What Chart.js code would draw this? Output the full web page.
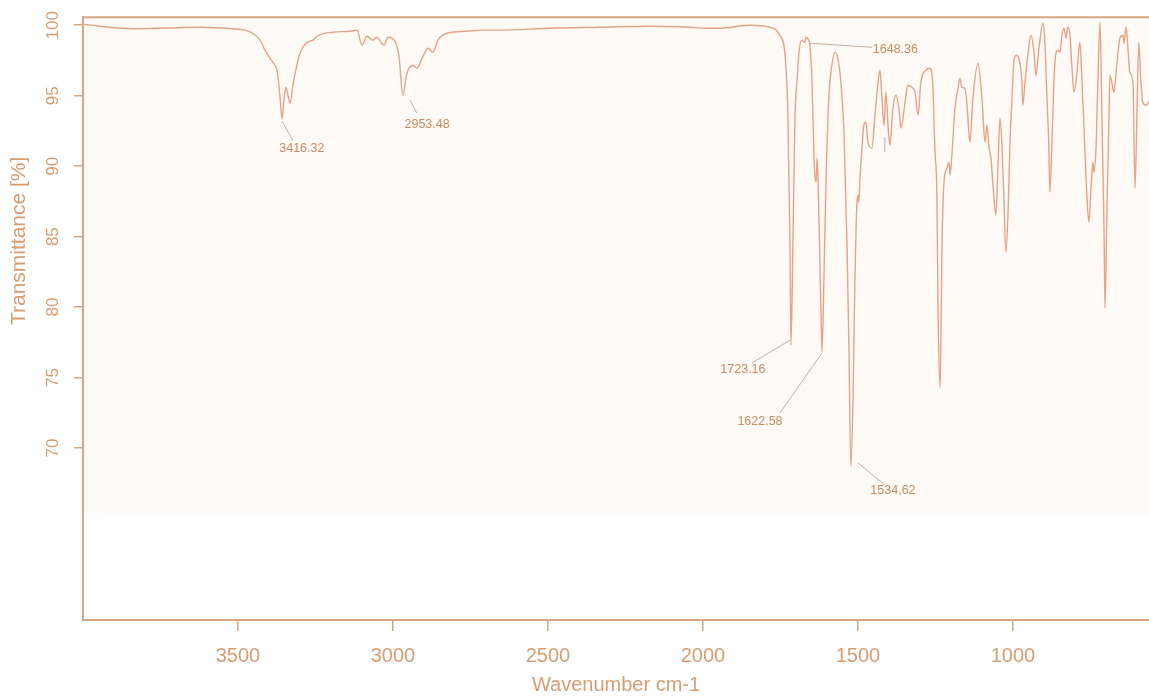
<!DOCTYPE html>
<html>
<head>
<meta charset="utf-8">
<script src="https://cdn.jsdelivr.net/npm/chart.js@4.4.1/dist/chart.umd.min.js"></script>
<style>
  html, body { margin: 0; padding: 0; background: #ffffff; }
  #wrap { width: 1149px; height: 700px; position: relative; }
</style>
</head>
<body>
<div id="wrap"><canvas id="c" width="1149" height="700"></canvas></div>
<script>
// ---- data ----
const wavenumbers = [4000,3945,3890,3839,3729,3623,3516,3477,3452,3429,3413,3397,3381,3374,3365,3358,3352,3345,3339,3332,3323,3310,3300,3277,3258,3245,3194,3139,3116,3100,3084,3065,3052,3029,3016,2994,2981,2968,2955,2935,2923,2906,2887,2871,2855,2826,2761,2719,2655,2494,2332,2171,2042,1994,1945,1848,1784,1752,1735,1726,1719,1716,1710,1703,1697,1690,1681,1671,1668,1661,1655,1648,1642,1639,1635,1632,1629,1626,1619,1616,1610,1603,1594,1584,1574,1565,1555,1545,1535,1529,1523,1516,1510,1506,1503,1500,1497,1494,1487,1481,1474,1468,1455,1445,1435,1429,1423,1416,1410,1403,1397,1387,1377,1368,1361,1348,1339,1326,1316,1306,1297,1281,1268,1258,1252,1245,1242,1235,1232,1229,1223,1213,1206,1203,1197,1187,1177,1171,1165,1155,1148,1139,1129,1113,1100,1090,1084,1077,1071,1065,1055,1048,1042,1035,1029,1023,1016,1010,1003,997,990,981,971,968,961,952,942,932,926,916,903,897,890,884,881,874,868,861,855,848,842,835,829,823,816,810,803,794,784,777,768,761,755,748,742,739,732,726,719,713,706,703,697,690,687,681,674,665,655,645,642,635,629,623,613,606,600,594,587,581,571,561];
const transmittance = [100.07,99.93,99.8,99.75,99.8,99.86,99.75,99.65,99.43,98.94,98.23,97.66,97.16,96.81,95.04,93.33,94.68,95.6,95.04,94.47,95.74,97.16,98.01,98.79,98.94,99.22,99.5,99.57,99.65,98.58,99.22,98.94,99.15,98.58,99.15,98.87,97.87,95.04,96.6,97.16,96.95,97.66,98.37,98.09,98.94,99.43,99.57,99.65,99.65,99.79,99.86,99.93,99.86,99.79,99.79,100,99.86,99.29,97.87,93.62,84.18,77.3,84.18,93.62,95.96,98.09,98.94,98.79,99.15,99.01,98.58,95.96,90.78,89.36,88.87,90.57,89.36,86.52,79.43,76.81,81.77,88.87,94.82,97.16,98.09,97.66,95.96,92.41,84.18,77.09,68.65,73.26,81.77,85.6,87.45,87.94,87.45,88.87,91.28,92.91,93.12,91.7,91.28,93.62,95.96,96.81,95.04,92.91,95.25,92.91,91.49,94.11,95.04,94.11,92.7,94.54,95.74,95.6,95.25,93.62,95.96,96.81,96.95,95.53,91.28,87.59,80.5,74.26,78.37,84.04,88.65,89.86,90.28,89.36,90.78,94.11,95.53,96.24,95.6,95.53,94.33,91.7,94.82,97.3,94.82,91.7,92.91,91.28,90.57,88.87,86.52,90.07,93.4,91.28,87.73,83.9,86.52,91.28,94.82,97.38,97.87,97.66,95.96,94.33,95.96,97.87,99.29,98.09,96.45,98.37,100.14,98.79,94.82,91.28,88.16,91.7,95.96,98.01,98.23,98.09,99.29,99.79,99.08,99.86,99.29,97.16,95.25,96.45,98.79,95.96,91.28,87.73,86.03,88.44,90.28,89.57,91.28,95.96,100.21,93.62,85.32,79.93,86.52,93.62,96.45,95.96,95.25,97.16,99.08,99.29,98.72,99.86,98.37,96.67,95.96,88.44,93.62,98.79,95.96,94.54,94.33,94.54];

const xTickValues = [3500, 3000, 2500, 2000, 1500, 1000];
const yTickValues = [70, 75, 80, 85, 90, 95, 100];

// peak annotations (data coordinates)
const annoText    = ['3416.32', '2953.48', '1648.36', '1723.16', '1622.58', '1534,62', ''];
const annoPeakWn  = [3358, 2945, 1655, 1719, 1616, 1500, 1413];
const annoPeakT   = [93.2, 94.68, 98.72, 77.66, 76.74, 68.94, 92.06];
const annoEndWn   = [3323, 2923, 1455, 1842, 1752, 1413, 1413];
const annoEndT    = [91.84, 93.76, 98.44, 76.03, 72.48, 67.38, 91.0];
const annoLabelWn = [3294, 2890, 1452, 1871, 1816, 1387, null];
const annoLabelT  = [91.28, 92.98, 98.3, 75.6, 71.91, 67.02, null];
const annoAlign   = ['center', 'center', 'left', 'center', 'center', 'center', 'center'];

// ---- styles ----
const axisColor = '#d6a583';
const textColor = '#d79d72';
const lineColor = '#e3a487';
const shadeColor = '#fffaf6';
const shadeBottomValue = 65.4;

const points = wavenumbers.map((w, i) => ({ x: w, y: transmittance[i] }));

const decor = {
  id: 'decor',
  beforeDraw(chart) {
    const { ctx, chartArea: a, scales: { y } } = chart;
    ctx.save();
    ctx.fillStyle = '#ffffff';
    ctx.fillRect(0, 0, chart.width, chart.height);
    const yb = y.getPixelForValue(shadeBottomValue);
    ctx.fillStyle = shadeColor;
    ctx.fillRect(a.left, a.top, a.right - a.left, yb - a.top);
    ctx.restore();
  },
  afterDraw(chart) {
    const { ctx, chartArea: a, scales: { x, y } } = chart;
    ctx.save();
    // top frame line
    ctx.strokeStyle = axisColor;
    ctx.lineWidth = 2;
    ctx.beginPath();
    ctx.moveTo(a.left - 1, a.top);
    ctx.lineTo(a.right, a.top);
    ctx.stroke();
    // y axis title
    ctx.fillStyle = textColor;
    ctx.font = '21px "Liberation Sans", Arial, sans-serif';
    ctx.textAlign = 'center';
    ctx.textBaseline = 'middle';
    ctx.translate(19, y.getPixelForValue(84.7));
    ctx.rotate(-Math.PI / 2);
    ctx.fillText('Transmittance [%]', 0, 0);
    ctx.restore();

    // annotations
    ctx.save();
    ctx.lineWidth = 1;
    ctx.strokeStyle = '#c4aea0';
    ctx.fillStyle = '#c98b5f';
    ctx.font = '12.5px "Liberation Sans", Arial, sans-serif';
    ctx.textBaseline = 'middle';
    for (let i = 0; i < annoText.length; i++) {
      ctx.beginPath();
      ctx.moveTo(x.getPixelForValue(annoPeakWn[i]), y.getPixelForValue(annoPeakT[i]));
      ctx.lineTo(x.getPixelForValue(annoEndWn[i]), y.getPixelForValue(annoEndT[i]));
      ctx.stroke();
      if (annoText[i] && annoLabelWn[i] !== null) {
        ctx.textAlign = annoAlign[i];
        ctx.fillText(annoText[i], x.getPixelForValue(annoLabelWn[i]), y.getPixelForValue(annoLabelT[i]));
      }
    }
    ctx.restore();
  }
};

new Chart(document.getElementById('c'), {
  type: 'line',
  data: {
    datasets: [{
      data: points,
      borderColor: lineColor,
      borderWidth: 1.4,
      pointRadius: 0,
      cubicInterpolationMode: 'monotone',
      fill: false
    }]
  },
  options: {
    responsive: false,
    animation: false,
    layout: { padding: { top: 17, right: 0, left: 0, bottom: 0 } },
    plugins: { legend: { display: false }, tooltip: { enabled: false } },
    scales: {
      x: {
        type: 'linear',
        reverse: true,
        min: 561,
        max: 4000,
        afterBuildTicks: (s) => { s.ticks = xTickValues.map(v => ({ value: v })); },
        afterFit: (s) => { s.height = 80; },
        grid: { display: true, drawOnChartArea: false, drawTicks: true, tickLength: 11, color: axisColor, lineWidth: 1.5 },
        border: { display: true, color: axisColor, width: 2 },
        ticks: {
          color: textColor,
          font: { family: '"Liberation Sans", Arial, sans-serif', size: 20 },
          padding: 13,
          maxRotation: 0,
          minRotation: 0,
          autoSkip: false,
          callback: (v) => String(v)
        },
        title: {
          display: true,
          text: 'Wavenumber cm-1',
          color: textColor,
          font: { family: '"Liberation Sans", Arial, sans-serif', size: 20 },
          padding: { top: 0, bottom: 3 }
        }
      },
      y: {
        type: 'linear',
        min: 57.8,
        max: 100.57,
        afterBuildTicks: (s) => { s.ticks = yTickValues.map(v => ({ value: v })); },
        afterFit: (s) => { s.width = 83; },
        grid: { display: true, drawOnChartArea: false, drawTicks: true, tickLength: 9, color: axisColor, lineWidth: 1.5 },
        border: { display: true, color: axisColor, width: 2 },
        ticks: {
          color: textColor,
          font: { family: '"Liberation Sans", Arial, sans-serif', size: 17 },
          padding: 7,
          minRotation: 90,
          maxRotation: 90,
          crossAlign: 'center',
          autoSkip: false,
          callback: (v) => String(v)
        }
      }
    }
  },
  plugins: [decor]
});
</script>
</body>
</html>
